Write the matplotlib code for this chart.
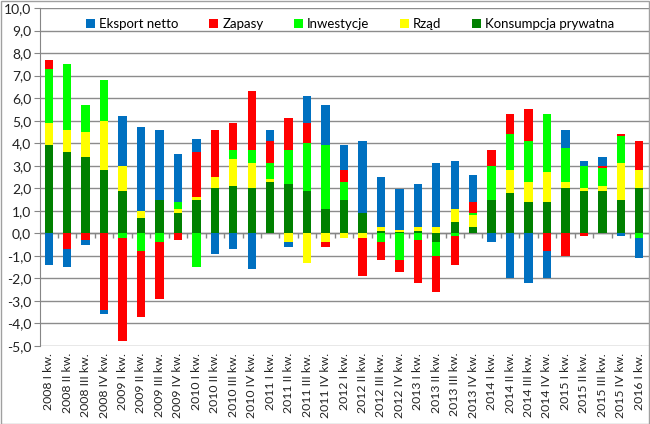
import matplotlib
matplotlib.use('Agg')
import matplotlib.pyplot as plt
import numpy as np
from matplotlib.patches import Rectangle

plt.rcParams['font.family'] = ['Lato', 'DejaVu Sans']

# dane: udział składników w dynamice PKB (pkt proc.)
kwartaly = ['2008 I kw.', '2008 II kw.', '2008 III kw.', '2008 IV kw.',
            '2009 I kw.', '2009 II kw.', '2009 III kw.', '2009 IV kw.',
            '2010 I kw.', '2010 II kw.', '2010 III kw.', '2010 IV kw.',
            '2011 I kw.', '2011 II kw.', '2011 III kw.', '2011 IV kw.',
            '2012 I kw.', '2012 II kw.', '2012 III kw.', '2012 IV kw.',
            '2013 I kw.', '2013 II kw.', '2013 III kw.', '2013 IV kw.',
            '2014 I kw.', '2014 II kw.', '2014 III kw.', '2014 IV kw.',
            '2015 I kw.', '2015 II kw.', '2015 III kw.', '2015 IV kw.',
            '2016 I kw.']

konsumpcja = [3.9, 3.6, 3.4, 2.8, 1.9, 0.7, 1.5, 0.9, 1.5, 2.0, 2.1, 2.0,
              2.3, 2.2, 1.9, 1.1, 1.5, 0.9, 0.1, 0.05, 0.1, -0.4, 0.5, 0.3,
              1.5, 1.8, 1.4, 1.4, 2.0, 1.9, 1.9, 1.5, 2.0]
rzad = [1.0, 1.0, 1.1, 2.2, 1.1, 0.3, 0.0, 0.2, 0.1, 0.5, 1.2, 1.1,
        0.1, -0.4, -1.3, -0.4, -0.2, -0.2, 0.2, 0.1, 0.2, 0.3, 0.6, 0.5,
        0.0, 1.0, 0.9, 1.3, 0.3, 0.1, 0.2, 1.6, 0.8]
inwestycje = [2.4, 2.9, 1.2, 1.8, -0.2, -0.8, -0.4, 0.3, -1.5, 0.0, 0.4, 0.6,
              0.7, 1.5, 2.1, 2.8, 0.8, 0.0, -0.4, -1.2, -0.3, -0.6, -0.1, 0.1,
              1.5, 1.6, 1.8, 2.6, 1.5, 1.0, 0.8, 1.2, -0.2]
zapasy = [0.4, -0.7, -0.3, -3.4, -4.6, -2.9, -2.5, -0.3, 2.0, 2.1, 1.2, 2.6,
          1.0, 1.4, 0.9, -0.2, 0.5, -1.7, -0.8, -0.5, -1.9, -1.6, -1.3, 0.5,
          0.7, 0.9, 1.4, -0.8, -1.0, -0.1, 0.1, 0.1, 1.3]
eksport = [-1.4, -0.8, -0.2, -0.2, 2.2, 3.7, 3.1, 2.1, 0.6, -0.9, -0.7, -1.6,
           0.5, -0.2, 1.2, 1.8, 1.1, 3.2, 2.2, 1.8, 1.9, 2.8, 2.1, 1.2,
           -0.4, -2.0, -2.2, -1.2, 0.8, 0.2, 0.4, -0.1, -0.9]

# kolejność stosu jak w Excelu: od konsumpcji w górę
serie = [('Konsumpcja prywatna', konsumpcja, '#008000'),
         ('Rząd', rzad, '#FFFF00'),
         ('Inwestycje', inwestycje, '#00FF00'),
         ('Zapasy', zapasy, '#FF0000'),
         ('Eksport netto', eksport, '#0070C0')]

fig = plt.figure(figsize=(6.5, 4.24), dpi=100)
ax = fig.add_axes([39.5 / 650, 1 - 346 / 424, 609 / 650, 338 / 424])

x = np.arange(len(kwartaly))
pos_bottom = np.zeros(len(x))
neg_bottom = np.zeros(len(x))
uchwyty = {}
for nazwa, wartosci, kolor in serie:
    v = np.array(wartosci, dtype=float)
    dodatnie = np.where(v > 0, v, 0)
    ujemne = np.where(v < 0, v, 0)
    h = ax.bar(x, dodatnie, width=0.45, bottom=pos_bottom, color=kolor, zorder=3)
    ax.bar(x, ujemne, width=0.45, bottom=neg_bottom, color=kolor, zorder=3)
    pos_bottom += dodatnie
    neg_bottom += ujemne
    uchwyty[nazwa] = h

ax.set_ylim(-5, 10)
ax.set_xlim(-0.5, len(x) - 0.5)
ax.set_yticks(np.arange(-5, 10.1, 1))
ax.set_yticklabels([f'{t:.1f}'.replace('.', ',') for t in np.arange(-5, 10.1, 1)],
                   fontsize=10, color='#222222')
ax.set_xticks(x)
ax.set_xticklabels(kwartaly, rotation=90, fontsize=8.8, color='#222222')
ax.tick_params(axis='x', length=0, pad=5)
ax.tick_params(axis='y', length=4, color='#868686', pad=2)

ax.grid(axis='y', color='#8c8c8c', linewidth=1, zorder=0)
for s in ['top', 'right', 'bottom']:
    ax.spines[s].set_visible(False)
ax.spines['left'].set_color('#868686')

# oś pozioma na zerze z kreskami między kategoriami
ax.axhline(0, color='#868686', linewidth=1, zorder=2)
ax.vlines(x[:-1] + 0.5, -0.2, 0, color='#868686', linewidth=1, zorder=2)

kolejnosc = ['Eksport netto', 'Zapasy', 'Inwestycje', 'Rząd', 'Konsumpcja prywatna']
leg = ax.legend([uchwyty[k] for k in kolejnosc], kolejnosc, ncol=5,
                loc='center', bbox_to_anchor=(0.51, 0.952), frameon=False,
                fontsize=9.5, handlelength=0.7, handleheight=0.7,
                handletextpad=0.3, columnspacing=2.3)

fig.patches.append(Rectangle((0.001, 0.001), 0.997, 0.997, transform=fig.transFigure,
                             fill=False, edgecolor='#a0a0a0', linewidth=1))

fig.savefig('out.png', dpi=100)
